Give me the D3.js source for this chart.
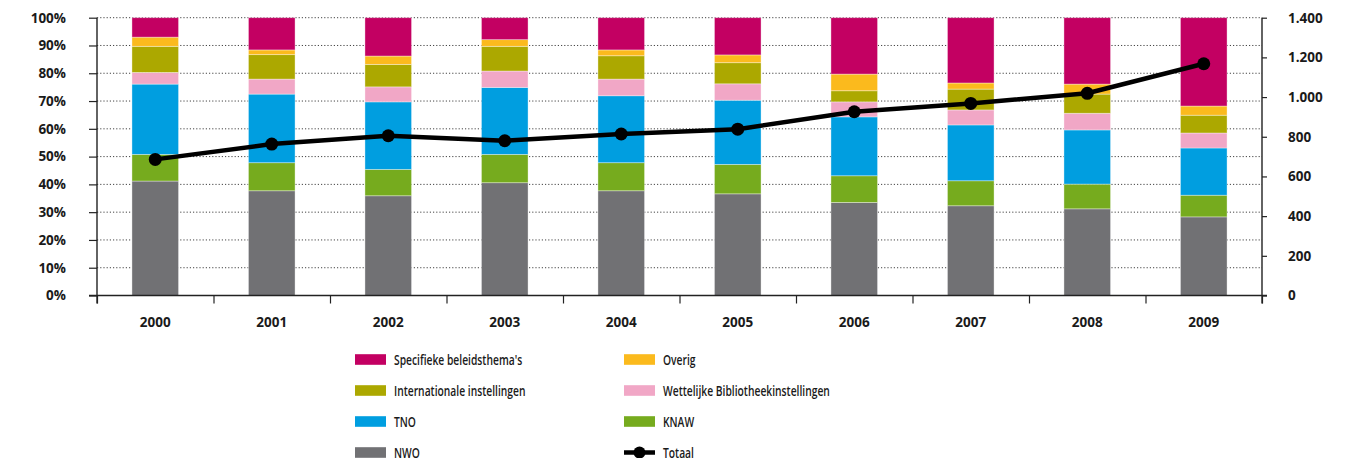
<!DOCTYPE html>
<html>
<head>
<meta charset="utf-8">
<script src="https://cdn.jsdelivr.net/npm/d3@7"></script>
<style>
  body { margin: 0; background: #fff; }
  svg { display: block; }
  .tick text { font-family: "Open Sans", "Noto Sans", sans-serif; font-weight: 700; fill: #1a1a1a; }
  .legend text { font-family: "Open Sans", "Noto Sans", sans-serif; fill: #1a1a1a; }
</style>
</head>
<body>
<svg id="chart" width="1353" height="458"></svg>
<script>
// ---- data ----
const years = ["2000","2001","2002","2003","2004","2005","2006","2007","2008","2009"];
// shares in % per series (bottom to top)
const nwo           = [41.2, 37.7, 35.9, 40.6, 37.7, 36.6, 33.5, 32.3, 31.2, 28.3];
const knaw          = [ 9.6, 10.1,  9.5, 10.2, 10.1, 10.6,  9.6,  9.0,  8.9,  7.8];
const tno           = [25.3, 24.7, 24.3, 24.1, 24.1, 23.1, 21.2, 20.1, 19.5, 17.0];
const wettelijke    = [ 4.2,  5.4,  5.4,  5.9,  6.0,  5.9,  5.4,  5.4,  6.0,  5.4];
const internationaal= [ 9.4,  8.8,  8.1,  8.9,  8.4,  7.6,  4.0,  7.5,  6.9,  6.4];
const overig        = [ 3.3,  1.7,  3.0,  2.4,  2.1,  2.8,  6.0,  2.2,  3.6,  3.3];
const specifiek     = [ 7.0, 11.6, 13.8,  7.9, 11.6, 13.4, 20.3, 23.5, 23.9, 31.8];
// total (right axis)
const totaal        = [686, 763, 805, 780, 814, 838, 926, 968, 1019, 1168];

const leftTicks  = [0,10,20,30,40,50,60,70,80,90,100];
const rightTicks = [0,200,400,600,800,1000,1200,1400];

const seriesNames = ["NWO","KNAW","TNO","Wettelijke Bibliotheekinstellingen","Internationale instellingen","Overig","Specifieke beleidsthema's"];
const seriesValues = [nwo, knaw, tno, wettelijke, internationaal, overig, specifiek];
const seriesColors = ["#717174","#76ab1e","#009ee0","#f1a7c6","#aca800","#fbba1d","#c30062"];

// ---- layout ----
const svg = d3.select("#chart");
const X0 = 97, X1 = 1262, YT = 17.7, YB = 295.5;

const x = d3.scaleBand().domain(years).range([X0, X1]).paddingInner(0.6).paddingOuter(0.3);
const xb = d3.scaleLinear().domain([0, years.length]).range([X0, X1]);
const yL = d3.scaleLinear().domain([0, 100]).range([YB, YT]);
const yR = d3.scaleLinear().domain([0, 1400]).range([YB, YT]);

const nlFmt = d3.formatLocale({decimal: ",", thousands: ".", grouping: [3], currency: ["€", ""]}).format(",");

// gridlines
svg.append("g").selectAll("line").data(leftTicks.filter(d => d > 0)).join("line")
  .attr("x1", X0).attr("x2", X1)
  .attr("y1", d => yL(d)).attr("y2", d => yL(d))
  .attr("stroke", "#444").attr("stroke-width", 1)
  .attr("stroke-dasharray", "1.2,2");

// stacked bars
const table = years.map((yr, i) => {
  const o = {year: yr};
  seriesNames.forEach((n, k) => o[n] = seriesValues[k][i]);
  return o;
});
const stacked = d3.stack().keys(seriesNames)(table);
svg.append("g").selectAll("g").data(stacked).join("g")
  .attr("fill", (d, i) => seriesColors[i])
  .selectAll("rect").data(d => d).join("rect")
  .attr("x", d => x(d.data.year))
  .attr("width", x.bandwidth())
  .attr("y", d => yL(d[1]))
  .attr("height", d => yL(d[0]) - yL(d[1]))
  .attr("stroke", "rgba(255,255,255,0.45)").attr("stroke-width", 0.8);

// axes
const gL = svg.append("g").attr("transform", `translate(${X0},0)`)
  .call(d3.axisLeft(yL).tickValues(leftTicks).tickFormat(d => d + "%").tickSize(8).tickPadding(23));
gL.select(".domain").remove();
gL.selectAll(".tick text").attr("font-size", 13.5);

const gR = svg.append("g").attr("transform", `translate(${X1},0)`)
  .call(d3.axisRight(yR).tickValues(rightTicks).tickFormat(nlFmt).tickSize(5).tickPadding(21));
gR.select(".domain").remove();
gR.selectAll(".tick text").attr("font-size", 13.5);

const gB = svg.append("g").attr("transform", `translate(0,${YB})`)
  .call(d3.axisBottom(xb).tickValues(d3.range(0, years.length + 1)).tickFormat("").tickSize(8));
gB.select(".domain").remove();

const gBL = svg.append("g").attr("transform", `translate(0,${YB})`)
  .call(d3.axisBottom(x).tickSize(0).tickPadding(22));
gBL.select(".domain").remove();
gBL.selectAll(".tick text").attr("font-size", 13.5);

svg.selectAll(".tick line").attr("stroke", "#222").attr("stroke-width", 1.2);

// axis lines
const axisColor = "#222";
svg.append("line").attr("x1", X0 - 8).attr("x2", X1 + 5).attr("y1", YB).attr("y2", YB)
  .attr("stroke", axisColor).attr("stroke-width", 1.4);
svg.append("line").attr("x1", X0).attr("x2", X0).attr("y1", YT).attr("y2", YB + 8)
  .attr("stroke", axisColor).attr("stroke-width", 1.4);
svg.append("line").attr("x1", X1).attr("x2", X1).attr("y1", YT).attr("y2", YB + 8)
  .attr("stroke", axisColor).attr("stroke-width", 1.4);

// total line
const cx = yr => x(yr) + x.bandwidth() / 2;
const line = d3.line().x((d, i) => cx(years[i])).y(d => yR(d));
svg.append("path").datum(totaal).attr("d", line)
  .attr("fill", "none").attr("stroke", "#000").attr("stroke-width", 4.5).attr("stroke-linejoin", "round");
svg.append("g").selectAll("circle").data(totaal).join("circle")
  .attr("cx", (d, i) => cx(years[i])).attr("cy", d => yR(d)).attr("r", 6.5).attr("fill", "#000");

// legend
const legendItems = [
  {name: "Specifieke beleidsthema's", color: "#c30062"},
  {name: "Overig", color: "#fbba1d"},
  {name: "Internationale instellingen", color: "#aca800"},
  {name: "Wettelijke Bibliotheekinstellingen", color: "#f1a7c6"},
  {name: "TNO", color: "#009ee0"},
  {name: "KNAW", color: "#76ab1e"},
  {name: "NWO", color: "#717174"},
  {name: "Totaal", color: "#000", line: true}
];
const legend = svg.append("g").attr("class", "legend");
const colX = [355, 624], rowY0 = 359.5, rowStep = 31;
legendItems.forEach((it, i) => {
  const gx = colX[i % 2], gy = rowY0 + Math.floor(i / 2) * rowStep;
  const g = legend.append("g").attr("transform", `translate(${gx},${gy})`);
  if (it.line) {
    g.append("line").attr("x1", 0).attr("x2", 31).attr("y1", 0).attr("y2", 0)
      .attr("stroke", "#000").attr("stroke-width", 4.5);
    g.append("circle").attr("cx", 15.5).attr("cy", 0).attr("r", 6).attr("fill", "#000");
  } else {
    g.append("rect").attr("x", 0).attr("y", -5.3).attr("width", 31).attr("height", 10.6).attr("fill", it.color);
  }
  g.append("text").attr("transform", "translate(39,0) scale(0.71,1)").attr("dy", "0.35em")
    .attr("font-size", 14.5).attr("font-weight", 600).text(it.name);
});
</script>
</body>
</html>
